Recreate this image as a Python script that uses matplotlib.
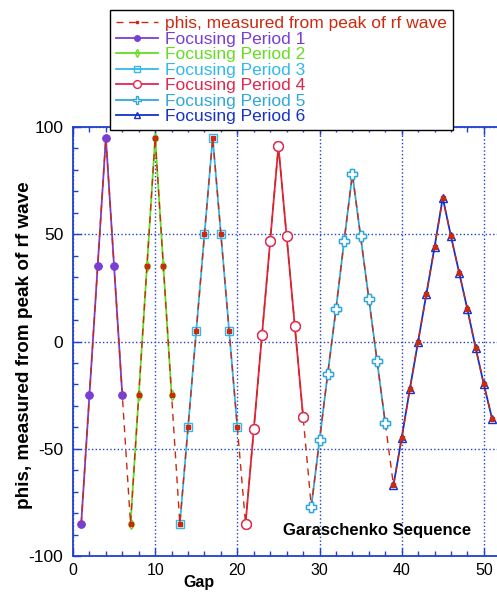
import matplotlib
matplotlib.use("Agg")
import matplotlib.pyplot as plt
from matplotlib.ticker import MultipleLocator

plt.rcParams['font.family'] = ['Liberation Sans', 'DejaVu Sans']
plt.rcParams['axes.unicode_minus'] = False

# ---- data ----
gap_p1 = [1, 2, 3, 4, 5, 6]
phi_p1 = [-85, -25, 35, 95, 35, -25]
gap_p2 = [7, 8, 9, 10, 11, 12]
phi_p2 = [-85, -25, 35, 95, 35, -25]
gap_p3 = [13, 14, 15, 16, 17, 18, 19, 20]
phi_p3 = [-85, -40, 5, 50, 95, 50, 5, -40]
gap_p4 = [21, 22, 23, 24, 25, 26, 27, 28]
phi_p4 = [-85, -41, 3, 47, 91, 49, 7, -35]
gap_p5 = [29, 30, 31, 32, 33, 34, 35, 36, 37, 38]
phi_p5 = [-77, -46, -15, 15, 47, 78, 49, 20, -9, -38]
gap_p6 = [39, 40, 41, 42, 43, 44, 45, 46, 47, 48, 49, 50, 51]
phi_p6 = [-67, -45, -22, 0, 22, 44, 67, 49, 32, 15, -3, -20, -36]

periods = [
    (gap_p1, phi_p1, "Focusing Period 1"),
    (gap_p2, phi_p2, "Focusing Period 2"),
    (gap_p3, phi_p3, "Focusing Period 3"),
    (gap_p4, phi_p4, "Focusing Period 4"),
    (gap_p5, phi_p5, "Focusing Period 5"),
    (gap_p6, phi_p6, "Focusing Period 6"),
]
all_gap = gap_p1 + gap_p2 + gap_p3 + gap_p4 + gap_p5 + gap_p6
all_phi = phi_p1 + phi_p2 + phi_p3 + phi_p4 + phi_p5 + phi_p6

colors = ['#7a3fd2', '#66dd22', '#33b8ee', '#e0284e', '#30a8dc', '#1432c8']
markers = ['o', 'd', 's', 'o', 'P', '^']
msizes = [5, 5, 6, 7, 7, 6]
mfaces = [colors[0], 'none', 'none', 'white', 'white', 'none']
red = '#cc2a10'
axis_blue = '#2040d0'

fig = plt.figure(figsize=(4.97, 5.92), dpi=100)
ax = fig.add_axes([73/497, 1-556/592, 1-73/497, (556-127)/592])

handles = []
for i, (g, p, lab) in enumerate(periods):
    h, = ax.plot(g, p, color=colors[i], lw=1.3, marker=markers[i], ms=msizes[i],
                 mfc=mfaces[i], mec=colors[i], mew=1.0, label=lab, zorder=2)
    handles.append(h)

hr, = ax.plot(all_gap, all_phi, color=red, lw=1.0, ls=(0, (5, 4)), marker='s', ms=2.5,
              mfc=red, mec=red, label="phis, measured from peak of rf wave", zorder=3)

for i in (0, 3, 4):
    g, p, _ = periods[i]
    ax.plot(g, p, ls='none', marker=markers[i], ms=msizes[i], mfc=mfaces[i],
            mec=colors[i], mew=1.0, zorder=4)

ax.set_xlim(0, 51.6)
ax.set_ylim(-100, 100)
ax.xaxis.set_major_locator(MultipleLocator(10))
ax.xaxis.set_minor_locator(MultipleLocator(2))
ax.yaxis.set_major_locator(MultipleLocator(50))
ax.yaxis.set_minor_locator(MultipleLocator(10))
ax.tick_params(which='both', direction='in', top=True, right=False, color=axis_blue,
               labelcolor='black')
ax.tick_params(which='major', length=6, width=1)
ax.tick_params(which='minor', length=3.5, width=1)
ax.tick_params(axis='y', pad=7, labelsize=12.5)
ax.tick_params(axis='x', pad=5, labelsize=11.5)
for s in ['left', 'bottom', 'top']:
    ax.spines[s].set_color(axis_blue)
    ax.spines[s].set_linewidth(1.3)
ax.spines['right'].set_visible(False)
ax.grid(True, which='major', color=axis_blue, ls=':', lw=1.0)
ax.set_axisbelow(True)

ax.text(25.5, -88, "Garaschenko Sequence", fontsize=12, fontweight='bold', va='center', ha='left')

fig.text(199/497, 1-583/592, "Gap", fontsize=11.5, fontweight='bold', ha='center', va='center')
fig.text(25/497, 1-345/592, "phis, measured from peak of rf wave", fontsize=13.6,
         fontweight='bold', rotation=90, ha='center', va='center')

leg = fig.legend([hr] + handles, [hr.get_label()] + [h.get_label() for h in handles],
                 loc='upper left', bbox_to_anchor=(110/497, 1-10/592), fontsize=12.5,
                 frameon=True, fancybox=False, edgecolor='black', framealpha=1,
                 labelspacing=0.02, handlelength=2.4, handletextpad=0.4,
                 borderpad=0.35, borderaxespad=0, markerscale=0.8)
leg.get_frame().set_linewidth(1.0)
for t, c in zip(leg.get_texts(), [red] + colors):
    t.set_color(c)
leg.set_zorder(10)

fig.savefig("out.png", dpi=100)
